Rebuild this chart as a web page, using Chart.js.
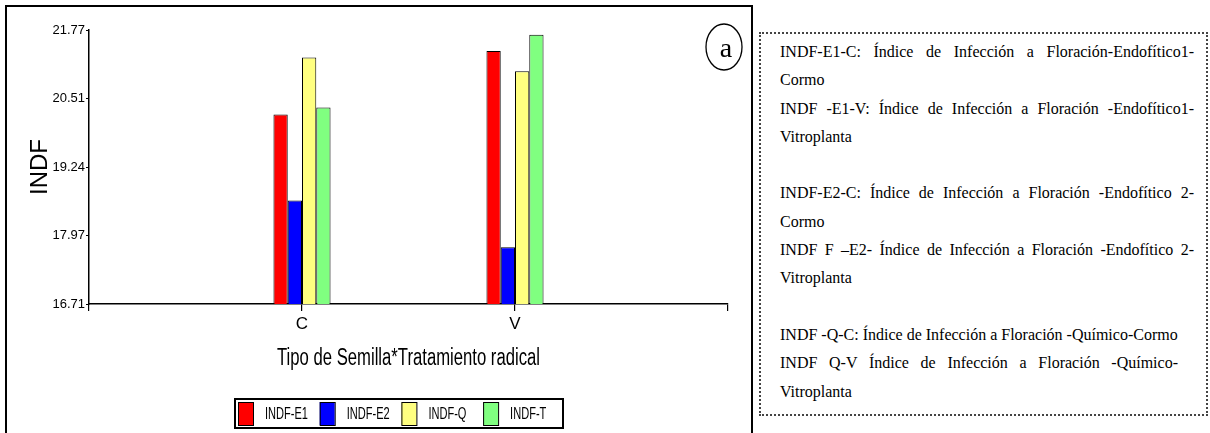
<!DOCTYPE html>
<html>
<head>
<meta charset="utf-8">
<script src="https://cdn.jsdelivr.net/npm/chart.js@4.4.1/dist/chart.umd.min.js"></script>
<style>
  body { margin: 0; background: #fff; width: 1210px; height: 433px; overflow: hidden; position: relative; }
  #frame { position: absolute; left: 5px; top: 5px; width: 744px; height: 500px; border: 2px solid #000; }
  #wrap { position: absolute; left: 0; top: 0; width: 750px; height: 433px; }
  #notes {
    position: absolute; left: 759px; top: 32px; width: 449px; height: 384px;
    box-sizing: border-box; border: 2px dotted #444;
    padding: 4px 0 0 19px;
    font-family: "Liberation Serif", "Times New Roman", serif; font-size: 16px; color: #000;
  }
  #notes div { width: 398px; height: 28.3px; line-height: 28.3px; white-space: nowrap; }
  #notes .j { text-align: justify; text-align-last: justify; white-space: normal; }
  #notes .w { width: 414px; }
</style>
</head>
<body>
<div id="frame"></div>
<div id="wrap"><canvas id="indfChart" width="750" height="433"></canvas></div>
<div id="notes">
  <div class="j w">INDF-E1-C: Índice de Infección a Floración-Endofítico1-</div>
  <div>Cormo</div>
  <div class="j w">INDF -E1-V: Índice de Infección a Floración -Endofítico1-</div>
  <div>Vitroplanta</div>
  <div>&nbsp;</div>
  <div class="j w">INDF-E2-C: Índice de Infección a Floración -Endofítico 2-</div>
  <div>Cormo</div>
  <div class="j w">INDF F –E2- Índice de Infección a Floración -Endofítico 2-</div>
  <div>Vitroplanta</div>
  <div>&nbsp;</div>
  <div>INDF -Q-C: Índice de Infección a Floración -Químico-Cormo</div>
  <div class="j">INDF Q-V Índice de Infección a Floración -Químico-</div>
  <div>Vitroplanta</div>
</div>
<script>
const categories = ["C", "V"];
const seriesNames = ["INDF-E1", "INDF-E2", "INDF-Q", "INDF-T"];
const seriesColors = ["#ff0000", "#0000ff", "#ffff80", "#80ff80"];
const indfE1 = [20.21, 21.38];
const indfE2 = [18.62, 17.76];
const indfQ = [21.26, 21.01];
const indfT = [20.34, 21.68];
const yTicks = [16.71, 17.97, 19.24, 20.51, 21.77];

const seriesValues = [indfE1, indfE2, indfQ, indfT];

// empty slots at both ends so C and V sit at 1/3 and 2/3 of the axis
const axisLabels = ["", ...categories, ""];

const extras = {
  id: "extras",
  afterDraw(chart) {
    const { ctx, chartArea } = chart;

    // x axis title, squeezed like the original
    ctx.save();
    ctx.fillStyle = "#000";
    ctx.font = "23px 'Liberation Sans'";
    ctx.textAlign = "center";
    ctx.textBaseline = "middle";
    const title = "Tipo de Semilla*Tratamiento radical";
    const tw = ctx.measureText(title).width;
    ctx.translate((chartArea.left + chartArea.right) / 2, 359);
    ctx.scale(263 / tw, 1);
    ctx.fillText(title, 0, 0);
    ctx.restore();

    // legend box
    ctx.save();
    ctx.strokeStyle = "#000";
    ctx.lineWidth = 2;
    ctx.strokeRect(235, 399, 328, 29);
    ctx.font = "17px 'Liberation Sans'";
    ctx.textBaseline = "middle";
    chart.data.datasets.forEach((ds, i) => {
      const bx = 238 + i * 81.7;
      ctx.fillStyle = ds.backgroundColor;
      ctx.fillRect(bx, 402, 15, 23);
      ctx.lineWidth = 1;
      ctx.strokeRect(bx + 0.5, 402.5, 15, 23);
      ctx.save();
      ctx.translate(bx + 27, 414);
      ctx.scale(0.65, 1);
      ctx.fillStyle = "#000";
      ctx.fillText(ds.label, 0, 0);
      ctx.restore();
    });
    ctx.restore();

    // panel tag "a"
    ctx.save();
    ctx.strokeStyle = "#000";
    ctx.lineWidth = 1.3;
    ctx.beginPath();
    ctx.ellipse(724, 47, 18, 23, 0, 0, Math.PI * 2);
    ctx.stroke();
    ctx.fillStyle = "#000";
    ctx.font = "28px 'Liberation Serif'";
    ctx.textAlign = "center";
    ctx.fillText("a", 726, 57);
    ctx.restore();
  }
};

new Chart(document.getElementById("indfChart"), {
  type: "bar",
  data: {
    labels: axisLabels,
    datasets: seriesNames.map((name, i) => ({
      label: name,
      data: [null, ...seriesValues[i], null],
      backgroundColor: seriesColors[i],
      borderColor: "#000",
      borderWidth: 1,
      borderSkipped: false,
      categoryPercentage: 0.268,
      barPercentage: 1
    }))
  },
  options: {
    responsive: false,
    animation: false,
    devicePixelRatio: 1,
    layout: { padding: { left: 8, right: 22, top: 30, bottom: 0 } },
    plugins: {
      legend: { display: false },
      tooltip: { enabled: false }
    },
    scales: {
      x: {
        type: "category",
        offset: false,
        grid: { offset: false, drawOnChartArea: false, drawTicks: true, tickLength: 7, color: "#000", lineWidth: 1.2 },
        border: { display: true, color: "#000", width: 1.5 },
        ticks: {
          color: "#000", autoSkip: false, maxRotation: 0, padding: 3,
          font: { family: "Liberation Sans", size: 17 }
        },
        afterFit(scale) { scale.height = 129; }
      },
      y: {
        min: 16.71,
        max: 21.77,
        afterBuildTicks(scale) { scale.ticks = yTicks.map(v => ({ value: v })); },
        grid: { drawOnChartArea: false, tickLength: 3, color: "#000" },
        border: { display: true, color: "#000", width: 1.5 },
        ticks: {
          color: "#000", padding: 1,
          font: { family: "Liberation Sans", size: 13 },
          callback: v => Number(v).toFixed(2)
        },
        title: {
          display: true, text: "INDF", color: "#000",
          font: { family: "Liberation Sans", size: 24 },
          padding: { top: 18, bottom: 0 }
        },
        afterFit(scale) { scale.width = 81; }
      }
    }
  },
  plugins: [extras]
});
</script>
</body>
</html>
